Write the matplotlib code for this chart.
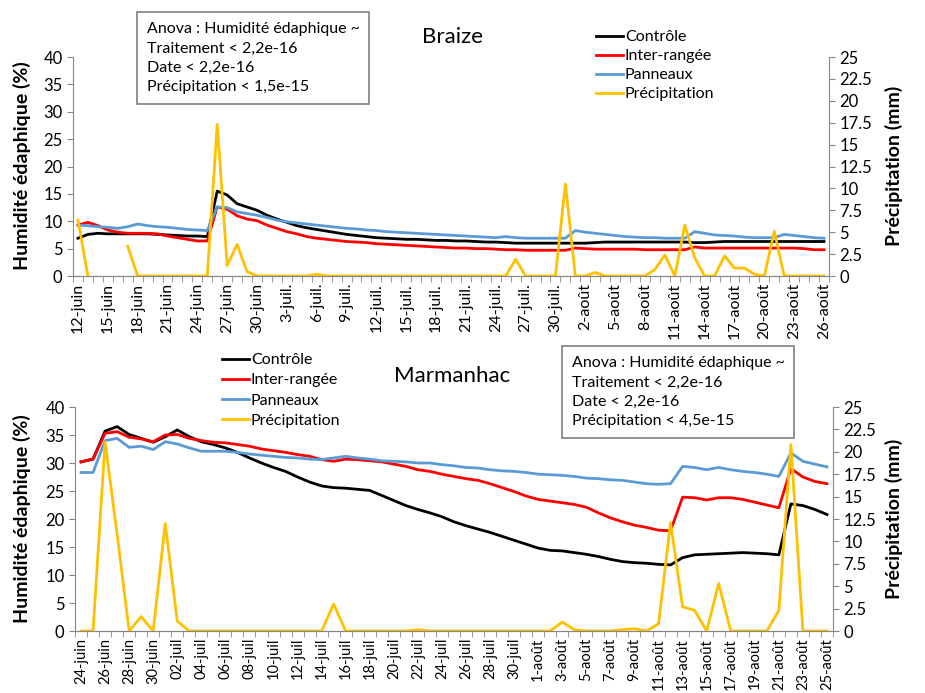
import numpy as np
import matplotlib
matplotlib.use("Agg")
import matplotlib.pyplot as plt
from matplotlib.ticker import MultipleLocator, FixedLocator, FuncFormatter

plt.rcParams['font.family'] = ['Lato', 'DejaVu Sans']

# ---------------- Braize (daily, 12-juin -> 26-août) ----------------
braize_labels = ['12-juin', '15-juin', '18-juin', '21-juin', '24-juin', '27-juin', '30-juin',
                 '3-juil.', '6-juil.', '9-juil.', '12-juil.', '15-juil.', '18-juil.', '21-juil.',
                 '24-juil.', '27-juil.', '30-juil.', '2-août', '5-août', '8-août', '11-août',
                 '14-août', '17-août', '20-août', '23-août', '26-août']
braize_label_step = 3

braize_controle = [6.9, 7.6, 7.8, 7.7, 7.7, 7.7, 7.7, 7.7, 7.6, 7.5, 7.4, 7.3, 7.3, 7.2,
                   15.5, 14.8, 13.2, 12.6, 12.0, 11.1, 10.4, 9.8, 9.2, 8.8, 8.5, 8.2, 7.9, 7.6,
                   7.4, 7.2, 7.0, 6.9, 6.8, 6.7, 6.7, 6.6, 6.5, 6.5, 6.4, 6.4, 6.3, 6.2, 6.2,
                   6.1, 6.0, 6.0, 6.0, 6.0, 6.0, 6.0, 6.0, 6.0, 6.1, 6.2, 6.2, 6.2, 6.2, 6.2,
                   6.2, 6.2, 6.2, 6.2, 6.1, 6.1, 6.2, 6.3, 6.3, 6.3, 6.3, 6.3, 6.3, 6.3, 6.3,
                   6.3, 6.3, 6.3]
braize_inter = [9.3, 9.8, 9.2, 8.4, 8.0, 7.8, 7.8, 7.8, 7.7, 7.3, 7.0, 6.7, 6.4, 6.4,
                12.6, 12.2, 11.0, 10.4, 10.1, 9.3, 8.7, 8.1, 7.7, 7.2, 6.9, 6.7, 6.5, 6.3,
                6.2, 6.1, 5.9, 5.8, 5.7, 5.6, 5.5, 5.4, 5.3, 5.2, 5.1, 5.1, 5.0, 5.0, 4.9,
                4.8, 4.8, 4.7, 4.7, 4.7, 4.7, 4.7, 5.1, 5.0, 4.9, 4.9, 4.9, 4.9, 4.9, 4.8,
                4.8, 4.8, 4.8, 4.8, 5.3, 5.1, 5.1, 5.1, 5.1, 5.1, 5.1, 5.1, 5.1, 5.1, 5.1,
                5.0, 4.8, 4.8]
braize_panneaux = [9.3, 9.2, 9.0, 8.9, 8.7, 9.0, 9.5, 9.2, 9.0, 8.9, 8.7, 8.5, 8.4, 8.3,
                   12.6, 12.5, 11.7, 11.4, 11.1, 10.7, 10.2, 9.9, 9.7, 9.5, 9.3, 9.1, 8.9, 8.7,
                   8.6, 8.4, 8.3, 8.1, 8.0, 7.9, 7.8, 7.7, 7.6, 7.5, 7.4, 7.3, 7.2, 7.1, 7.0,
                   7.2, 7.0, 6.9, 6.9, 6.9, 6.9, 6.9, 8.3, 8.0, 7.8, 7.6, 7.4, 7.2, 7.1, 7.0,
                   7.0, 6.9, 6.9, 6.9, 8.1, 7.8, 7.5, 7.4, 7.3, 7.1, 7.0, 7.0, 7.0, 7.6, 7.4,
                   7.2, 7.0, 6.9]
nan = np.nan
braize_precip = [6.4, 0, nan, nan, nan, 3.4, 0, 0, 0, 0, 0, 0, 0, 0,
                 17.3, 1.2, 3.6, 0.5, 0, 0, 0, 0, 0, 0, 0.2, 0, 0, 0,
                 0, 0, 0, 0, 0, 0, 0, 0, 0, 0, 0, 0, 0, 0, 0,
                 0, 1.9, 0, 0, 0, 0, 10.5, 0, 0, 0.4, 0, 0, 0, 0, 0,
                 0.75, 2.4, 0, 5.8, 2.1, 0, 0, 2.3, 0.9, 0.9, 0.2, 0, 5.1, 0, 0,
                 0, 0, 0]

# ---------------- Marmanhac (daily, 24-juin -> 25-août) ----------------
marm_labels = ['24-juin', '26-juin', '28-juin', '30-juin', '02-juil', '04-juil', '06-juil',
               '08-juil', '10-juil', '12-juil', '14-juil', '16-juil', '18-juil', '20-juil',
               '22-juil', '24-juil', '26-juil', '28-juil', '30-juil', '1-août', '3-août',
               '5-août', '7-août', '9-août', '11-août', '13-août', '15-août', '17-août',
               '19-août', '21-août', '23-août', '25-août']
marm_label_step = 2

marm_controle = [30.2, 30.7, 35.7, 36.5, 35.1, 34.4, 33.7, 34.7, 35.9, 34.7, 33.8, 33.3,
                 32.7, 31.9, 30.9, 30.0, 29.2, 28.5, 27.5, 26.6, 25.9, 25.6, 25.5, 25.3,
                 25.1, 24.2, 23.3, 22.4, 21.7, 21.1, 20.4, 19.5, 18.8, 18.2, 17.6, 16.9,
                 16.2, 15.5, 14.8, 14.4, 14.3, 14.0, 13.7, 13.3, 12.8, 12.4, 12.2, 12.1,
                 11.9, 11.8, 13.1, 13.6, 13.7, 13.8, 13.9, 14.0, 13.9, 13.8, 13.6, 22.7,
                 22.4, 21.7, 20.8]
marm_inter = [30.2, 30.7, 35.3, 35.6, 34.6, 34.3, 33.8, 35.0, 35.1, 34.4, 34.0, 33.7,
              33.6, 33.3, 33.0, 32.5, 32.2, 31.9, 31.5, 31.2, 30.6, 30.3, 30.7, 30.6,
              30.4, 30.2, 29.8, 29.4, 28.8, 28.5, 28.0, 27.6, 27.2, 26.9, 26.3, 25.6,
              24.9, 24.1, 23.5, 23.2, 22.9, 22.6, 22.1, 21.1, 20.2, 19.5, 18.9, 18.5,
              18.0, 17.9, 23.9, 23.8, 23.4, 23.8, 23.8, 23.5, 23.0, 22.5, 22.0, 29.0,
              27.5, 26.7, 26.3]
marm_panneaux = [28.3, 28.3, 34.0, 34.4, 32.8, 33.0, 32.4, 33.8, 33.4, 32.7, 32.1, 32.1,
                 32.1, 31.9, 31.6, 31.4, 31.2, 31.0, 30.9, 30.7, 30.6, 30.9, 31.2, 30.9,
                 30.7, 30.4, 30.3, 30.2, 30.0, 30.0, 29.7, 29.5, 29.2, 29.1, 28.8, 28.6,
                 28.5, 28.3, 28.0, 27.9, 27.8, 27.6, 27.3, 27.2, 27.0, 26.9, 26.6, 26.3,
                 26.2, 26.3, 29.4, 29.2, 28.8, 29.2, 28.8, 28.5, 28.3, 28.0, 27.6, 31.8,
                 30.3, 29.8, 29.3]
marm_precip = [0, 0, 21.1, 10.8, 0, 1.6, 0, 12.0, 1.1, 0, 0, 0,
               0, 0, 0, 0, 0, 0, 0, 0, 0, 3.0, 0, 0,
               0, 0, 0, 0, 0.15, 0, 0, 0, 0, 0, 0, 0,
               0, 0, 0, 0, 1.0, 0.15, 0, 0, 0, 0.15, 0.25, 0,
               0.8, 12.1, 2.7, 2.3, 0, 5.3, 0, 0, 0, 0, 2.3, 20.8,
               0, 0, 0]

COLORS = {'Contrôle': 'black', 'Inter-rangée': '#FF0000',
          'Panneaux': '#5B9BD5', 'Précipitation': '#FFC000'}
AXIS_GREY = '#868686'


def draw_panel(fig, rect, series, precip, labels, step, xlabel_size):
    ax = fig.add_axes(rect)
    ax2 = ax.twinx()
    n = len(precip)
    x = np.arange(n)

    handles = []
    for name, vals in series:
        h, = ax.plot(x, vals, color=COLORS[name], lw=2.0, label=name)
        handles.append(h)
    h, = ax2.plot(x, precip, color=COLORS['Précipitation'], lw=2.0, label='Précipitation')
    handles.append(h)

    ax.set_xlim(-0.5, n - 0.5)
    ax.set_ylim(0, 40)
    ax2.set_ylim(0, 25)
    ax.yaxis.set_major_locator(MultipleLocator(5))
    ax2.yaxis.set_major_locator(MultipleLocator(2.5))
    ax2.yaxis.set_major_formatter(FuncFormatter(lambda v, p: f'{v:g}'))

    # category labels every `step` days, ticks at every day boundary
    ax.xaxis.set_major_locator(FixedLocator(np.arange(0, n, step)))
    ax.set_xticklabels(labels, rotation=90)
    ax.xaxis.set_minor_locator(FixedLocator(np.arange(-0.5, n, 1)))
    ax.tick_params(axis='x', which='major', length=0, pad=5, labelsize=xlabel_size)
    ax.tick_params(axis='x', which='minor', length=4, color=AXIS_GREY)

    for a in (ax, ax2):
        a.spines['top'].set_visible(False)
        for s in ('left', 'right', 'bottom'):
            a.spines[s].set_color(AXIS_GREY)
        a.tick_params(axis='y', length=4, color=AXIS_GREY, labelsize=12)
    ax.spines['right'].set_visible(False)
    ax2.spines['left'].set_visible(False)
    return ax, ax2, handles


fig = plt.figure(figsize=(9.25, 6.93), dpi=100)
H = 693.0
W = 925.0

# top panel : Braize
ax_t, ax_t2, h_t = draw_panel(
    fig, [73 / W, 1 - 276 / H, (829 - 73) / W, (276 - 57) / H],
    [('Contrôle', braize_controle), ('Inter-rangée', braize_inter), ('Panneaux', braize_panneaux)],
    braize_precip, braize_labels, braize_label_step, 11.5)

# bottom panel : Marmanhac
ax_b, ax_b2, h_b = draw_panel(
    fig, [75 / W, 1 - 631 / H, (833 - 75) / W, (631 - 407) / H],
    [('Contrôle', marm_controle), ('Inter-rangée', marm_inter), ('Panneaux', marm_panneaux)],
    marm_precip, marm_labels, marm_label_step, 10.5)

# titles
fig.text(452 / W, 1 - 37 / H, 'Braize', ha='center', va='center', fontsize=16)
fig.text(452 / W, 1 - 376 / H, 'Marmanhac', ha='center', va='center', fontsize=16)

# axis titles
for yc in (166, 519):
    fig.text(22 / W, 1 - yc / H, 'Humidité édaphique (%)', rotation=90, ha='center',
             va='center', fontsize=14, fontweight='bold')
    fig.text(894 / W, 1 - yc / H, 'Précipitation (mm)', rotation=90, ha='center',
             va='center', fontsize=14, fontweight='bold')

# legends
leg_kw = dict(loc='upper left', frameon=False, handlelength=1.7, handletextpad=0.1,
              borderaxespad=0, borderpad=0, fontsize=11.5)
fig.legend(h_t, [h.get_label() for h in h_t], bbox_to_anchor=(596 / W, 1 - 30 / H),
           labelspacing=0.3, **leg_kw)
fig.legend(h_b, [h.get_label() for h in h_b], bbox_to_anchor=(222 / W, 1 - 353 / H),
           labelspacing=0.38, **leg_kw)

# anova boxes
box = dict(boxstyle='square,pad=0.6', fc='white', ec='#7F7F7F', lw=1.2)
fig.text(147 / W, 1 - 22 / H,
         'Anova : Humidité édaphique ~\nTraitement < 2,2e-16\nDate < 2,2e-16\nPrécipitation < 1,5e-15',
         ha='left', va='top', fontsize=11.5, linespacing=1.5, bbox=box)
fig.text(572 / W, 1 - 356 / H,
         'Anova : Humidité édaphique ~\nTraitement < 2,2e-16\nDate < 2,2e-16\nPrécipitation < 4,5e-15',
         ha='left', va='top', fontsize=11.5, linespacing=1.5, bbox=box)

fig.savefig('out.png', dpi=100)
